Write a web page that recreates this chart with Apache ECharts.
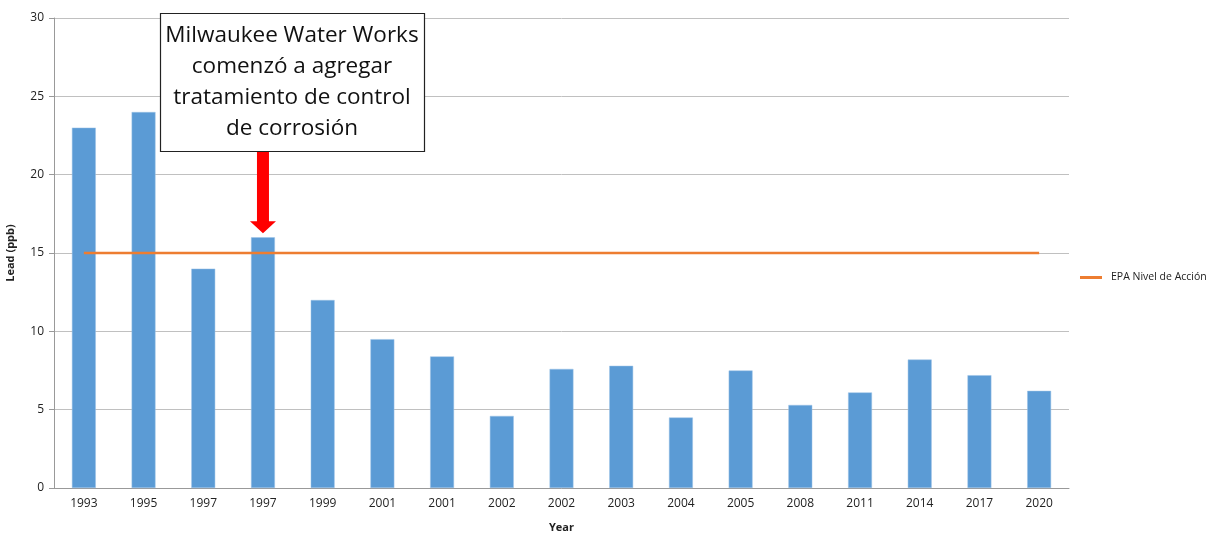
<!DOCTYPE html>
<html>
<head>
<meta charset="utf-8">
<script src="https://cdn.jsdelivr.net/npm/echarts@6/dist/echarts.min.js"></script>
<style>
  html, body { margin: 0; padding: 0; background: #fff; }
  #chart { width: 1231px; height: 533px; }
</style>
</head>
<body>
<div id="chart"></div>
<script>
var years = ['1993', '1995', '1997', '1997', '1999', '2001', '2001', '2002', '2002',
    '2003', '2004', '2005', '2008', '2011', '2014', '2017', '2020'];
var lead = [23, 24, 14, 16, 12, 9.5, 8.4, 4.6, 7.6, 7.8, 4.5, 7.5, 5.3, 6.1, 8.2, 7.2, 6.2];
var actionLevel = [15, 15, 15, 15, 15, 15, 15, 15, 15, 15, 15, 15, 15, 15, 15, 15, 15];
var yTicks = [0, 5, 10, 15, 20, 25, 30];
var noteLines = ['Milwaukee Water Works', 'comenzó a agregar', 'tratamiento de control', 'de corrosión'];
var noteIndex = 3;

var font = "'Open Sans', 'Noto Sans', sans-serif";
var myChart = echarts.init(document.getElementById('chart'));

myChart.setOption({
    animation: false,
    grid: {
        left: 54,
        right: 162,
        top: 18,
        bottom: 45,
        outerBoundsMode: 'none'
    },
    legend: {
        orient: 'vertical',
        left: 1075,
        top: 267,
        itemWidth: 22,
        itemHeight: 3,
        itemGap: 10,
        textStyle: { fontFamily: font, fontSize: 10.5, color: '#222', padding: [0, 0, 0, 4] },
        data: [{ name: 'EPA Nivel de Acción', icon: 'rect' }]
    },
    xAxis: {
        type: 'category',
        data: years,
        name: 'Year',
        nameLocation: 'middle',
        nameGap: 34,
        nameTextStyle: { fontFamily: font, fontSize: 11, fontWeight: 'bold', color: '#222' },
        axisLine: { lineStyle: { color: '#999' } },
        axisTick: { length: 5, lineStyle: { color: '#999' } },
        axisLabel: { fontFamily: font, fontSize: 12, color: '#222', margin: 10 }
    },
    yAxis: {
        type: 'value',
        min: yTicks[0],
        max: yTicks[yTicks.length - 1],
        interval: 5,
        name: 'Lead (ppb)',
        nameLocation: 'middle',
        nameGap: 38,
        nameTextStyle: { fontFamily: font, fontSize: 11, fontWeight: 'bold', color: '#222' },
        axisLine: { show: true, lineStyle: { color: '#999' } },
        axisTick: { show: true, length: 5, lineStyle: { color: '#999' } },
        axisLabel: { fontFamily: font, fontSize: 12, color: '#222', margin: 10 },
        splitLine: { lineStyle: { color: '#c0c0c0' } }
    },
    series: [
        {
            name: 'Lead',
            type: 'bar',
            data: lead,
            barWidth: '40%',
            itemStyle: { color: '#5b9bd5', borderColor: '#9dc3e6', borderWidth: 0.5 }
        },
        {
            name: 'EPA Nivel de Acción',
            type: 'line',
            data: actionLevel,
            symbol: 'none',
            lineStyle: { color: '#ed7d31', width: 2.5 },
            itemStyle: { color: '#ed7d31' }
        }
    ]
});

// annotation box and arrow, anchored to the highlighted bar
var tip = myChart.convertToPixel({ seriesIndex: 0 }, [noteIndex, lead[noteIndex]]);
var ax = tip[0];
var tipY = tip[1] - 4;
var boxTop = 13, boxBottom = 151;
myChart.setOption({
    graphic: [
        {
            type: 'rect',
            shape: { x: 160.5, y: boxTop + 0.5, width: 264, height: boxBottom - boxTop },
            style: { fill: '#fff', stroke: '#222', lineWidth: 1.2 },
            z: 100
        },
        {
            type: 'text',
            x: 292,
            y: 20,
            style: {
                text: noteLines.join('\n'),
                font: '22.5px ' + font,
                fill: '#111',
                align: 'center',
                verticalAlign: 'top',
                lineHeight: 31
            },
            z: 101
        },
        {
            type: 'polygon',
            shape: {
                points: [
                    [ax - 6, boxBottom + 1], [ax + 6, boxBottom + 1], [ax + 6, tipY - 12],
                    [ax + 13, tipY - 12], [ax, tipY], [ax - 13, tipY - 12], [ax - 6, tipY - 12]
                ]
            },
            style: { fill: '#ff0000' },
            z: 100
        }
    ]
});
</script>
</body>
</html>
